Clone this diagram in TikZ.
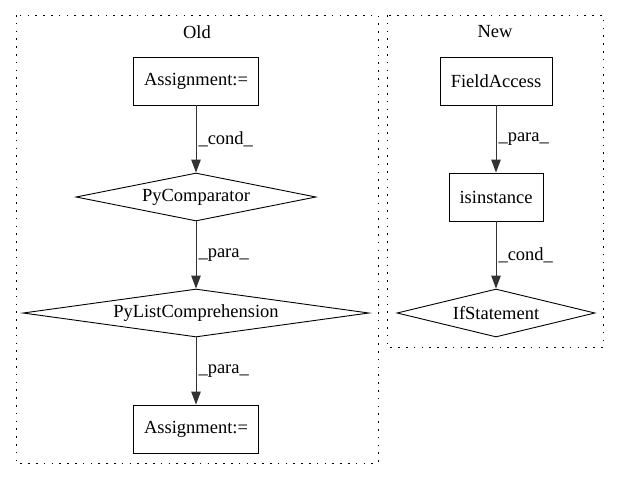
\documentclass[tikz,border=0pt]{standalone}
\usepackage{fontspec}
\setmainfont{Liberation Serif}
\usetikzlibrary{shapes.geometric,arrows.meta}
\tikzset{
  % node styles (statements, tests, cluster frames)
  stmt/.style={rectangle,draw,line width=0.9pt,inner sep=0pt,minimum height=48pt},
  test/.style={diamond,draw,line width=0.9pt,inner sep=0pt,minimum height=48pt},
  cluster/.style={draw,line width=1pt,dash pattern=on 1.6pt off 6.2pt},
  % edge styles
  dep/.style={draw=black!80,line width=1pt,-{Triangle[length=13pt,width=9.5pt]}},
  deplabel/.style={right,inner sep=2pt},
}
\begin{document}
\begin{tikzpicture}[x=1pt,y=-1pt,font=\fontsize{18.5}{22}\selectfont]
  \useasboundingbox (0,0) rectangle (621,480);
  % frames
  \draw[cluster] (16,15) rectangle (378,463);
  \draw[cluster] (387,15) rectangle (603,347);
  \node (old) at (197,32) {Old};
  \node (new) at (495,32) {New};
  % old
  \node[stmt,minimum width=125pt] (a1) at (196,81) {Assignment:=};
  \node[test,minimum width=240pt,shape aspect=5] (cmp) at (196,197) {PyComparator};
  \node[test,minimum width=346pt,shape aspect=7] (lc) at (196,313) {PyListComprehension};
  \node[stmt,minimum width=125pt] (a2) at (196,429) {Assignment:=};
  \draw[dep] (a1) -- node[deplabel]{\_cond\_} (cmp);
  \draw[dep] (cmp) -- node[deplabel]{\_para\_} (lc);
  \draw[dep] (lc) -- node[deplabel]{\_para\_} (a2);
  % new
  \node[stmt,minimum width=112pt] (fa) at (496,81) {FieldAccess};
  \node[stmt,minimum width=94pt] (isi) at (496,197) {isinstance};
  \node[test,minimum width=198pt,shape aspect=4] (ifs) at (496,313) {IfStatement};
  \draw[dep] (fa) -- node[deplabel]{\_para\_} (isi);
  \draw[dep] (isi) -- node[deplabel]{\_cond\_} (ifs);
\end{tikzpicture}
\end{document}
